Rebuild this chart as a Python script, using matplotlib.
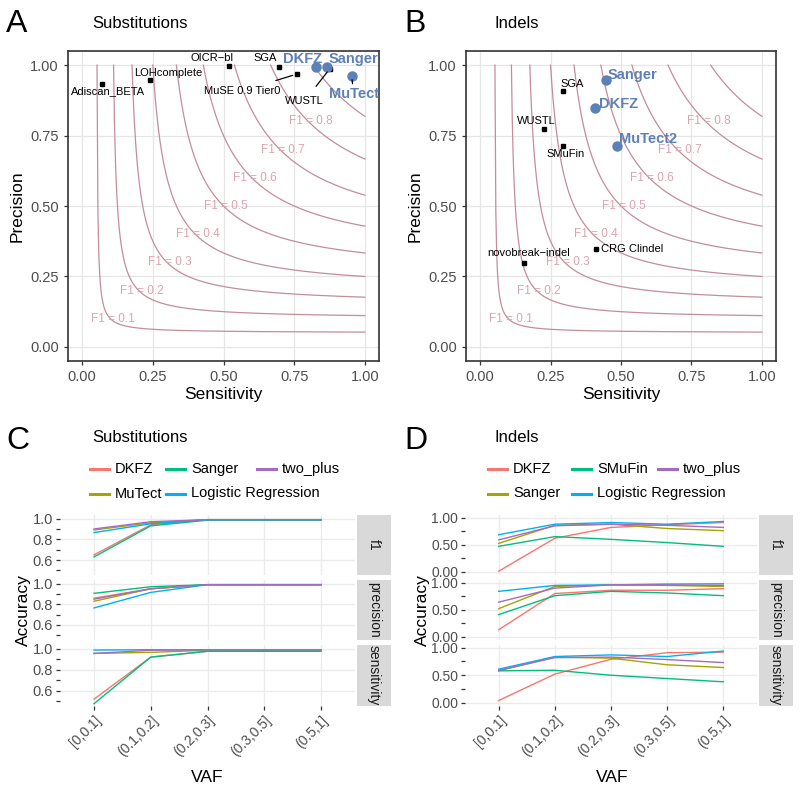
import numpy as np
import matplotlib.pyplot as plt
from matplotlib.lines import Line2D

plt.rcParams['font.family'] = ['Liberation Sans', 'DejaVu Sans']

W, H = 800, 795

# ---------------- data ----------------
# panel A: substitutions, one point per caller
sub_callers = ['Adiscan_BETA', 'LOHcomplete', 'OICR\u2212bl', 'SGA', 'MuSE 0.9 Tier0',
               'WUSTL', 'DKFZ', 'Sanger', 'MuTect']
sub_sens = [0.070, 0.241, 0.518, 0.697, 0.759, 0.876, 0.826, 0.865, 0.953]
sub_prec = [0.933, 0.947, 0.998, 0.994, 0.968, 0.987, 0.994, 0.994, 0.963]
sub_core = [False, False, False, False, False, False, True, True, True]

# panel B: indels
ind_callers = ['SGA', 'WUSTL', 'SMuFin', 'novobreak\u2212indel', 'CRG Clindel',
               'Sanger', 'DKFZ', 'MuTect2']
ind_sens = [0.293, 0.225, 0.293, 0.157, 0.411, 0.447, 0.408, 0.485]
ind_prec = [0.908, 0.772, 0.714, 0.299, 0.346, 0.947, 0.846, 0.714]
ind_core = [False, False, False, False, False, True, True, True]

f1_levels = [0.1, 0.2, 0.3, 0.4, 0.5, 0.6, 0.7, 0.8, 0.9]
f1_labelled = [0.1, 0.2, 0.3, 0.4, 0.5, 0.6, 0.7, 0.8]

# panels C / D: accuracy by VAF bin
vaf_bins = ['[0,0.1]', '(0.1,0.2]', '(0.2,0.3]', '(0.3,0.5]', '(0.5,1]']
metrics = ['f1', 'precision', 'sensitivity']

sub_methods = ['DKFZ', 'MuTect', 'Sanger', 'Logistic Regression', 'two_plus']
sub_f1 = [[0.65, 0.94, 0.99, 0.99, 0.99],
          [0.89, 0.96, 0.99, 0.99, 0.99],
          [0.63, 0.93, 0.985, 0.985, 0.985],
          [0.865, 0.95, 0.99, 0.99, 0.99],
          [0.90, 0.97, 0.99, 0.99, 0.99]]
sub_precision = [[0.86, 0.95, 0.99, 0.99, 0.99],
                 [0.83, 0.95, 0.99, 0.99, 0.99],
                 [0.906, 0.97, 0.99, 0.99, 0.99],
                 [0.765, 0.915, 0.99, 0.99, 0.99],
                 [0.85, 0.95, 0.99, 0.99, 0.99]]
sub_sensitivity = [[0.52, 0.92, 0.975, 0.975, 0.975],
                   [0.955, 0.965, 0.985, 0.985, 0.985],
                   [0.477, 0.92, 0.975, 0.975, 0.975],
                   [0.987, 0.99, 0.99, 0.99, 0.99],
                   [0.955, 0.985, 0.99, 0.99, 0.99]]

ind_methods = ['DKFZ', 'Sanger', 'SMuFin', 'Logistic Regression', 'two_plus']
ind_f1 = [[0.01, 0.62, 0.82, 0.87, 0.91],
          [0.525, 0.86, 0.88, 0.80, 0.76],
          [0.47, 0.65, 0.60, 0.54, 0.47],
          [0.685, 0.88, 0.91, 0.88, 0.93],
          [0.59, 0.85, 0.88, 0.86, 0.82]]
ind_precision = [[0.13, 0.80, 0.86, 0.86, 0.89],
                 [0.52, 0.93, 0.96, 0.95, 0.93],
                 [0.41, 0.76, 0.84, 0.81, 0.76],
                 [0.84, 0.95, 0.96, 0.96, 0.95],
                 [0.64, 0.90, 0.96, 0.975, 0.98]]
ind_sensitivity = [[0.04, 0.52, 0.79, 0.91, 0.92],
                   [0.58, 0.83, 0.81, 0.69, 0.64],
                   [0.58, 0.59, 0.50, 0.44, 0.38],
                   [0.61, 0.84, 0.87, 0.84, 0.94],
                   [0.59, 0.82, 0.83, 0.785, 0.73]]

line_cols = ['#F8766D', '#A3A500', '#00BF7D', '#00B0F6', '#A46CC0']
blue = '#5D80B6'
curve_col = '#C38D9A'
f1_text_col = '#DCA3B1'


def rect(l, t, r, b):
    return [l / W, 1 - b / H, (r - l) / W, (b - t) / H]


fig = plt.figure(figsize=(W / 100, H / 100), dpi=100)

# label offsets (points) for the text labels in A / B
sub_off = [(4.5, -5), (13, 5), (-12, 5.5), (-10, 6), (-39, -12), (-18, -23), (-9.5, 5.5), (19, 5.5), (1.5, -13)]
sub_seg = [False, False, False, False, True, True, False, False, True]
ind_off = [(6.5, 5), (-5.5, 6.2), (2.2, -6.2), (2.9, 7), (26, 0.5), (19, 3.8), (16.6, 3.4), (22.6, 5)]
ind_seg = [False] * 8


def pr_panel(ax, names, sens, prec, core, offs, segs):
    for f in f1_levels:
        r = np.linspace(f / (2 - f), 1, 300)
        ax.plot(r, f * r / (2 * r - f), color=curve_col, lw=0.9, zorder=2)
    for f in f1_labelled:
        ax.text(f + 0.01, f, 'F1 = %g' % f, color=f1_text_col, fontsize=8.5,
                ha='center', va='center', zorder=3)
    for n, x, y, c, o, s in zip(names, sens, prec, core, offs, segs):
        if c:
            ax.plot(x, y, 'o', color=blue, ms=6.5, zorder=5)
            kw = dict(color=blue, fontsize=10.5, fontweight='bold')
        else:
            ax.plot(x, y, 's', color='black', ms=2.8, zorder=5)
            kw = dict(color='black', fontsize=8)
        ap = dict(arrowstyle='-', color='black', lw=0.9, shrinkA=6, shrinkB=3) if s else None
        ax.annotate(n, (x, y), xytext=o, textcoords='offset points',
                    ha='center', va='center', arrowprops=ap, zorder=6, **kw)
    ax.set_xlim(-0.05, 1.05)
    ax.set_ylim(-0.05, 1.05)
    ticks = [0, 0.25, 0.5, 0.75, 1.0]
    ax.set_xticks(ticks)
    ax.set_yticks(ticks)
    ax.set_xticklabels(['%.2f' % t for t in ticks])
    ax.set_yticklabels(['%.2f' % t for t in ticks])
    ax.grid(True, color='#E6E6E6', lw=0.9, zorder=0)
    ax.set_axisbelow(True)
    for sp in ax.spines.values():
        sp.set_color('#333333')
        sp.set_linewidth(1.2)
    ax.tick_params(colors='#333333', labelcolor='#4D4D4D', labelsize=10.5, length=3, width=0.9)
    ax.set_xlabel('Sensitivity', fontsize=12.5, labelpad=2)
    ax.set_ylabel('Precision', fontsize=12.5, labelpad=4)


axA = fig.add_axes(rect(68, 51, 379, 361))
pr_panel(axA, sub_callers, sub_sens, sub_prec, sub_core, sub_off, sub_seg)
axB = fig.add_axes(rect(466, 51, 776, 361))
pr_panel(axB, ind_callers, ind_sens, ind_prec, ind_core, ind_off, ind_seg)


def vaf_panel(left, right, methods, series, ylim, major, major_lab, minor, leg_x, ysize):
    rows = [(515, 575), (580, 640), (645, 706)]
    x = np.arange(len(vaf_bins))
    for i, (m, (t, b)) in enumerate(zip(metrics, rows)):
        ax = fig.add_axes(rect(left, t, right, b))
        for j, meth in enumerate(methods):
            ax.plot(x, series[i][j], color=line_cols[j], lw=1.0, zorder=3)
        ax.set_xlim(-0.6, 4.6)
        ax.set_ylim(*ylim)
        ax.set_yticks(major)
        ax.set_yticklabels(major_lab)
        ax.set_yticks(minor, minor=True)
        ax.set_xticks(x)
        ax.grid(True, color='#EBEBEB', lw=1.0, zorder=0)
        for sp in ax.spines.values():
            sp.set_visible(False)
        ax.tick_params(which='both', colors='#333333', labelcolor='#4D4D4D',
                       labelsize=ysize, length=3, width=0.9, pad=2)
        if i < 2:
            ax.tick_params(axis='x', length=0, labelbottom=False)
        else:
            ax.set_xticklabels(vaf_bins, rotation=45, ha='right', rotation_mode='anchor',
                               fontsize=10)
        sax = fig.add_axes(rect(right + 2, t, right + 36, b))
        sax.set_facecolor('#D9D9D9')
        sax.set_xticks([])
        sax.set_yticks([])
        for sp in sax.spines.values():
            sp.set_visible(False)
        sax.text(0.5, 0.5, m, rotation=-90, ha='center', va='center',
                 fontsize=10, color='#1A1A1A', transform=sax.transAxes)
    # legend drawn by hand, two rows
    order = [0, 2, 4, 1, 3]
    slots = [(0, 0), (1, 0), (2, 0), (0, 1), (1, 1)]
    for j, (c, r) in zip(order, slots):
        hx = leg_x[c]
        hy = 1 - (469 + 24.5 * r) / H
        fig.add_artist(Line2D([hx / W, (hx + 19) / W], [hy, hy], color=line_cols[j], lw=2.2))
        fig.text((hx + 25) / W, hy, methods[j], fontsize=10.5, va='center', ha='left')


sub_series = [sub_f1, sub_precision, sub_sensitivity]
ind_series = [ind_f1, ind_precision, ind_sensitivity]

vaf_panel(60, 355, sub_methods, sub_series, (0.455, 1.035), [0.6, 0.8, 1.0],
          ['0.6', '0.8', '1.0'], [0.5, 0.7, 0.9], [90, 166, 257], 10.5)
vaf_panel(465, 757, ind_methods, ind_series, (-0.06, 1.05), [0.0, 0.5, 1.0],
          ['0.00', '0.50', '1.00'], [0.25, 0.75], [488, 572, 658], 10)

# axis titles for C / D
fig.text(23 / W, 1 - 610 / H, 'Accuracy', rotation=90, fontsize=12.5, ha='center', va='center')
fig.text(422 / W, 1 - 610 / H, 'Accuracy', rotation=90, fontsize=12.5, ha='center', va='center')
fig.text(207 / W, 1 - 777 / H, 'VAF', fontsize=12.5, ha='center', va='center')
fig.text(612 / W, 1 - 777 / H, 'VAF', fontsize=12.5, ha='center', va='center')

# panel letters and titles
for lab, x, y in [('A', 6, 24), ('B', 404, 24), ('C', 6, 441), ('D', 404, 441)]:
    fig.text(x / W, 1 - y / H, lab, fontsize=23, ha='left', va='center')
for t, x, y in [('Substitutions', 92, 24), ('Indels', 495, 24),
                ('Substitutions', 92, 437), ('Indels', 495, 437)]:
    fig.text(x / W, 1 - y / H, t, fontsize=12, ha='left', va='center')

fig.savefig('out.png', dpi=100)
